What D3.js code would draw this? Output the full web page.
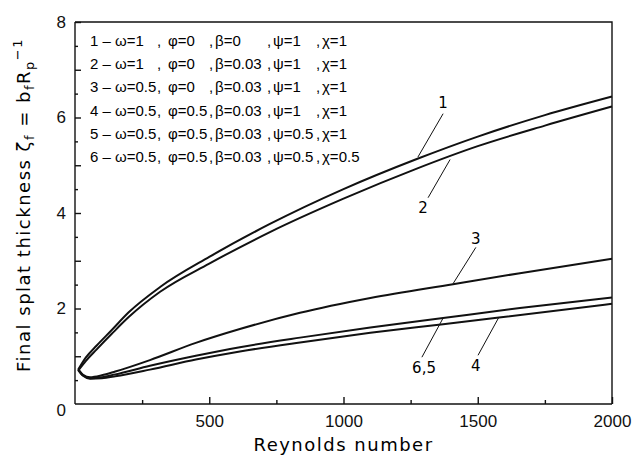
<!DOCTYPE html>
<html>
<head>
<meta charset="utf-8">
<script src="https://cdn.jsdelivr.net/npm/d3@7"></script>
<style>
  body { margin: 0; background: #fff; }
  svg { font-family: "DejaVu Sans", sans-serif; }
  .axis path, .axis line { stroke: #111; stroke-width: 1.4; }
  .axis text { font-size: 17px; fill: #111; }
  .curve { fill: none; stroke: #111; stroke-width: 2; }
  .leader { stroke: #111; stroke-width: 1; }
</style>
</head>
<body>
<svg id="chart" width="639" height="466"></svg>
<script>
/*
  Final splat thickness vs Reynolds number
  Values, [Re, zeta]
*/
const curve1 = [[12, 0.72], [40, 0.97], [80, 1.22], [137, 1.55], [200, 1.92], [317, 2.45], [500, 3.08],
  [726, 3.77], [1000, 4.5], [1273, 5.13], [1500, 5.6], [1750, 6.05], [2000, 6.44]];
const curve2 = [[12, 0.7], [40, 0.9], [80, 1.14], [137, 1.47], [200, 1.82], [317, 2.35], [500, 2.94],
  [726, 3.6], [1000, 4.3], [1273, 4.93], [1500, 5.4], [1750, 5.83], [2000, 6.23]];
const curve3 = [[12, 0.73], [30, 0.61], [56, 0.56], [100, 0.6], [150, 0.68], [279, 0.92], [450, 1.28],
  [614, 1.57], [838, 1.91], [1100, 2.22], [1408, 2.51], [1657, 2.74], [2000, 3.04]];
const curve4 = [[12, 0.71], [30, 0.59], [56, 0.53], [100, 0.54], [150, 0.58], [279, 0.72], [450, 0.93],
  [614, 1.1], [838, 1.29], [1100, 1.49], [1371, 1.67], [1579, 1.81], [2000, 2.1]];
const curve65 = [[12, 0.72], [30, 0.6], [56, 0.54], [100, 0.56], [150, 0.62], [279, 0.8], [450, 1.01],
  [614, 1.19], [838, 1.39], [1100, 1.6], [1371, 1.8], [1657, 2.01], [2000, 2.23]];

// curve labels: text, label position, leader start, leader end (data units)
const curveLabels = [
  { text: '1', at: [1371, 6.3], from: [1371, 6.08], to: [1277, 5.17] },
  { text: '2', at: [1296, 4.1], from: [1315, 4.32], to: [1397, 5.12] },
  { text: '3', at: [1493, 3.46], from: [1493, 3.28], to: [1408, 2.52] },
  { text: '6,5', at: [1300, 0.76], from: [1292, 0.98], to: [1371, 1.8] },
  { text: '4', at: [1493, 0.8], from: [1501, 1.02], to: [1579, 1.82] }
];

const legendRows = [
  ['1 \u2013 \u03c9=1', '\u03c6=0', '\u03b2=0', '\u03c8=1', '\u03c7=1'],
  ['2 \u2013 \u03c9=1', '\u03c6=0', '\u03b2=0.03', '\u03c8=1', '\u03c7=1'],
  ['3 \u2013 \u03c9=0.5', '\u03c6=0', '\u03b2=0.03', '\u03c8=1', '\u03c7=1'],
  ['4 \u2013 \u03c9=0.5', '\u03c6=0.5', '\u03b2=0.03', '\u03c8=1', '\u03c7=1'],
  ['5 \u2013 \u03c9=0.5', '\u03c6=0.5', '\u03b2=0.03', '\u03c8=0.5', '\u03c7=1'],
  ['6 \u2013 \u03c9=0.5', '\u03c6=0.5', '\u03b2=0.03', '\u03c8=0.5', '\u03c7=0.5']
];

const xMajorTicks = [500, 1000, 1500, 2000];
const xMinorTicks = [250, 750, 1250, 1750];
const yMajorTicks = [0, 2, 4, 6, 8];
const yMinorTicks = [1, 3, 5, 7];
const yHalfTicks = [0.5, 1.5, 2.5, 3.5, 4.5, 5.5, 6.5, 7.5];

const margin = { left: 75, right: 27, top: 22, bottom: 62 };
const W = 639, H = 466;

const svg = d3.select('#chart');

const x = d3.scaleLinear().domain([0, 2000]).range([margin.left, W - margin.right]);
const y = d3.scaleLinear().domain([0, 8]).range([H - margin.bottom, margin.top]);

/*
 * Axes, ticks pointing inwards
 */
svg.append('g')
  .attr('class', 'axis')
  .attr('transform', `translate(0,${y(0)})`)
  .call(d3.axisBottom(x).tickValues(xMinorTicks).tickSize(-4).tickFormat(''))
  .call(g => g.select('.domain').remove());

svg.append('g')
  .attr('class', 'axis')
  .attr('transform', `translate(0,${y(0)})`)
  .call(d3.axisBottom(x).tickValues(xMajorTicks).tickSizeInner(-7).tickSizeOuter(0)
    .tickPadding(11).tickFormat(d3.format('d')))
  .call(g => g.select('.domain').attr('d', `M${x(0)},0H${x(2000)}`));

svg.append('g')
  .attr('class', 'axis')
  .attr('transform', `translate(${x(0)},0)`)
  .call(d3.axisLeft(y).tickValues(yHalfTicks).tickSize(-3).tickFormat(''))
  .call(g => g.select('.domain').remove());

svg.append('g')
  .attr('class', 'axis')
  .attr('transform', `translate(${x(0)},0)`)
  .call(d3.axisLeft(y).tickValues(yMinorTicks).tickSize(-6).tickFormat(''))
  .call(g => g.select('.domain').remove());

svg.append('g')
  .attr('class', 'axis')
  .attr('transform', `translate(${x(0)},0)`)
  .call(d3.axisLeft(y).tickValues(yMajorTicks).tickSizeInner(-6).tickSizeOuter(0).tickPadding(9))
  .call(g => g.select('.domain').attr('d', `M0,${y(0)}V${y(8)}`))
  .call(g => g.selectAll('.tick').filter(d => d === 0).select('line').remove())
  .call(g => g.selectAll('.tick').filter(d => d === 0).select('text').attr('dy', '0.65em'));

// frame top and right
svg.append('path')
  .attr('d', `M${x(0)},${y(8)}H${x(2000)}V${y(0)}`)
  .attr('fill', 'none')
  .attr('stroke', '#111')
  .attr('stroke-width', 1.4);

/*
 * Axis titles
 */
svg.append('text')
  .attr('x', (x(0) + x(2000)) / 2)
  .attr('y', 451)
  .attr('text-anchor', 'middle')
  .style('font-size', '18px')
  .style('letter-spacing', '1.5px')
  .text('Reynolds number');

const yTitle = svg.append('text')
  .attr('transform', `translate(30,205) rotate(-90)`)
  .attr('text-anchor', 'middle')
  .style('font-size', '18px')
  .style('letter-spacing', '1.5px');
yTitle.append('tspan').text('Final splat thickness \u03b6');
yTitle.append('tspan').attr('dy', 4).style('font-size', '13px').text('f');
yTitle.append('tspan').attr('dy', -4).text(' = b');
yTitle.append('tspan').attr('dy', 4).style('font-size', '13px').text('f');
yTitle.append('tspan').attr('dy', -4).text('R');
yTitle.append('tspan').attr('dy', 4).style('font-size', '13px').text('p');
yTitle.append('tspan').attr('dy', -12).style('font-size', '13px').text('\u22121');

/*
 * Curves
 */
const line = d3.line()
  .x(d => x(d[0]))
  .y(d => y(d[1]))
  .curve(d3.curveMonotoneX);

svg.append('g')
  .selectAll('path')
  .data([curve1, curve2, curve3, curve4, curve65])
  .join('path')
  .attr('class', 'curve')
  .attr('d', line);

/*
 * Curve labels with leader lines
 */
const labels = svg.append('g');
labels.selectAll('line')
  .data(curveLabels)
  .join('line')
  .attr('class', 'leader')
  .attr('x1', d => x(d.from[0]))
  .attr('y1', d => y(d.from[1]))
  .attr('x2', d => x(d.to[0]))
  .attr('y2', d => y(d.to[1]));

labels.selectAll('text')
  .data(curveLabels)
  .join('text')
  .attr('x', d => x(d.at[0]))
  .attr('y', d => y(d.at[1]))
  .attr('dy', '0.35em')
  .attr('text-anchor', 'middle')
  .style('font-size', '15px')
  .text(d => d.text);

/*
 * Legend text block (parameters of each curve)
 */
const colX = [90, 168, 215, 273, 322];
const commaX = [157, 209, 267, 316];
const legend = svg.append('g')
  .style('font-family', '"Liberation Sans", Arial, sans-serif')
  .style('font-size', '15px');
legendRows.forEach((row, i) => {
  const ly = 46 + i * 23.2;
  row.forEach((s, j) => {
    legend.append('text').attr('x', colX[j]).attr('y', ly).text(s);
  });
  commaX.forEach(cx => {
    legend.append('text').attr('x', cx).attr('y', ly).text(',');
  });
});
</script>
</body>
</html>
